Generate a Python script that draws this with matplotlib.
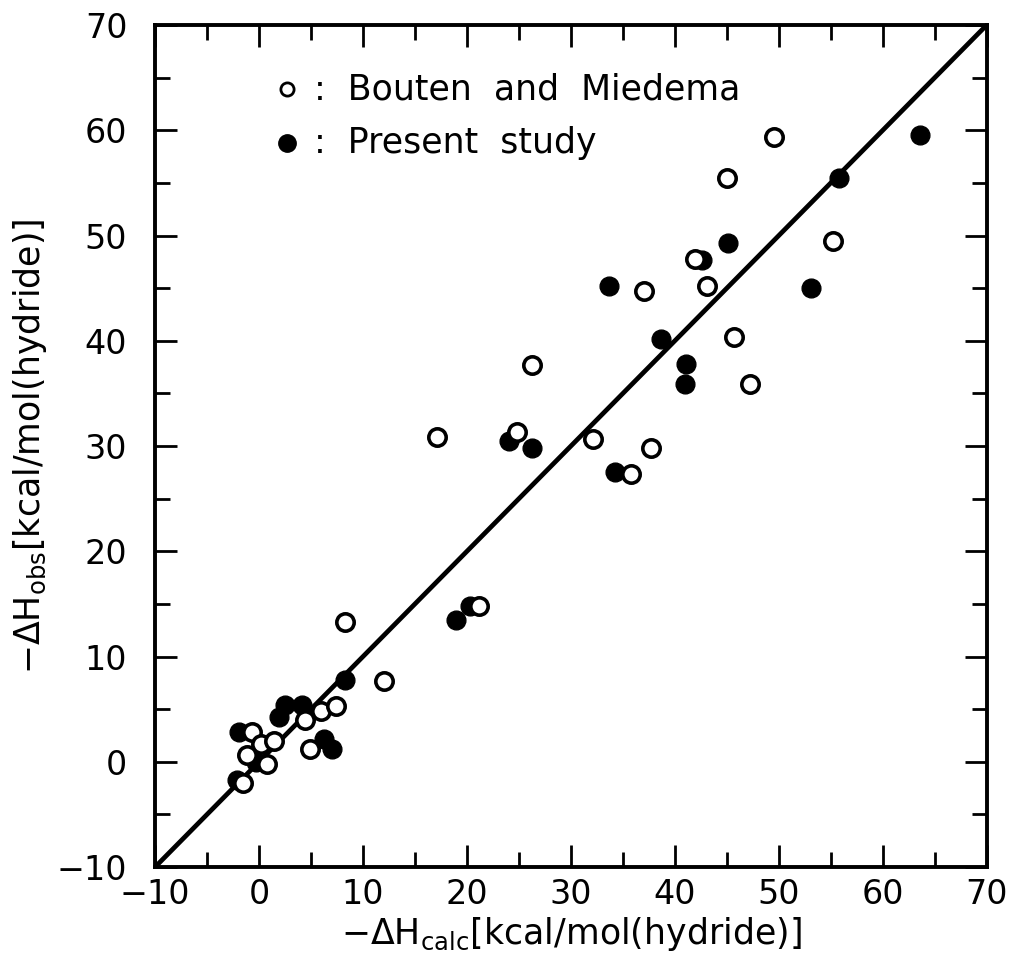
import numpy as np
import matplotlib
matplotlib.use("Agg")
import matplotlib.pyplot as plt

# Bouten and Miedema (open circles)
bm_calc = [49.5, 45.0, 41.9, 43.1, 55.2, 45.7, 47.2, 37.0, 26.3, 17.1, 24.8, 32.1, 37.7, 35.8,
           21.2, 8.3, 12.0, 4.4, 6.0, 7.4, -0.7, 0.2, 1.4, -1.2, 0.8, 4.9, -1.5]
bm_obs = [59.4, 55.5, 47.8, 45.2, 49.5, 40.4, 35.9, 44.7, 37.7, 30.9, 31.3, 30.7, 29.8, 27.3,
          14.8, 13.3, 7.7, 4.0, 4.8, 5.3, 2.8, 1.7, 2.0, 0.6, -0.2, 1.2, -2.0]

# Present study (filled circles)
ps_calc = [63.6, 55.8, 45.1, 42.6, 53.1, 33.7, 38.7, 41.1, 41.0, 24.0, 26.3, 34.2, 18.9, 20.3,
           8.3, 2.5, 1.9, 4.1, -1.9, -0.3, 6.2, 7.0, -2.1]
ps_obs = [59.6, 55.5, 49.3, 47.7, 45.0, 45.2, 40.2, 37.8, 35.9, 30.5, 29.8, 27.5, 13.5, 14.8,
          7.8, 5.4, 4.3, 5.4, 2.8, 0.0, 2.2, 1.2, -1.7]

lims = [-10, 70]

plt.rcParams['font.family'] = 'DejaVu Sans'
plt.rcParams['mathtext.fontset'] = 'dejavusans'

fig = plt.figure(figsize=(10.14, 9.66), dpi=100)
ax = fig.add_axes([0.153, 0.1025, 0.82, 0.8715])

ax.plot(lims, lims, color='black', lw=3.4, zorder=2)
ax.plot(ps_calc, ps_obs, 'o', ms=13.5, color='black', mec='black', zorder=3)
ax.plot(bm_calc, bm_obs, 'o', ms=12.5, mfc='white', mec='black', mew=2.6, zorder=4)

# legend written inside the frame
ax.plot([2.7], [63.9], 'o', ms=9.5, mfc='white', mec='black', mew=2.0)
ax.plot([2.7], [58.8], 'o', ms=12.5, color='black')
ax.text(5.3, 63.9, ':  Bouten  and  Miedema', fontsize=25, va='center')
ax.text(5.3, 58.8, ':  Present  study', fontsize=25, va='center')

ax.set_xlim(lims)
ax.set_ylim(lims)
ax.set_xticks(np.arange(-10, 71, 10))
ax.set_yticks(np.arange(-10, 71, 10))
ax.set_xticks(np.arange(-5, 70, 10), minor=True)
ax.set_yticks(np.arange(-5, 70, 10), minor=True)
ax.tick_params(which='both', direction='in', top=True, right=True, width=2.0, labelsize=24)
ax.tick_params(which='major', length=16)
ax.tick_params(which='minor', length=11)
ax.tick_params(axis='y', pad=20)
ax.tick_params(axis='x', pad=8)
for s in ax.spines.values():
    s.set_linewidth(2.8)

ax.set_xlabel(r'$-\Delta\mathrm{H}_{\mathrm{calc}}$[kcal/mol(hydride)]', fontsize=25, labelpad=3)
ax.set_ylabel(r'$-\Delta\mathrm{H}_{\mathrm{obs}}$[kcal/mol(hydride)]', fontsize=25, labelpad=6)

fig.savefig("out.png", dpi=100)
